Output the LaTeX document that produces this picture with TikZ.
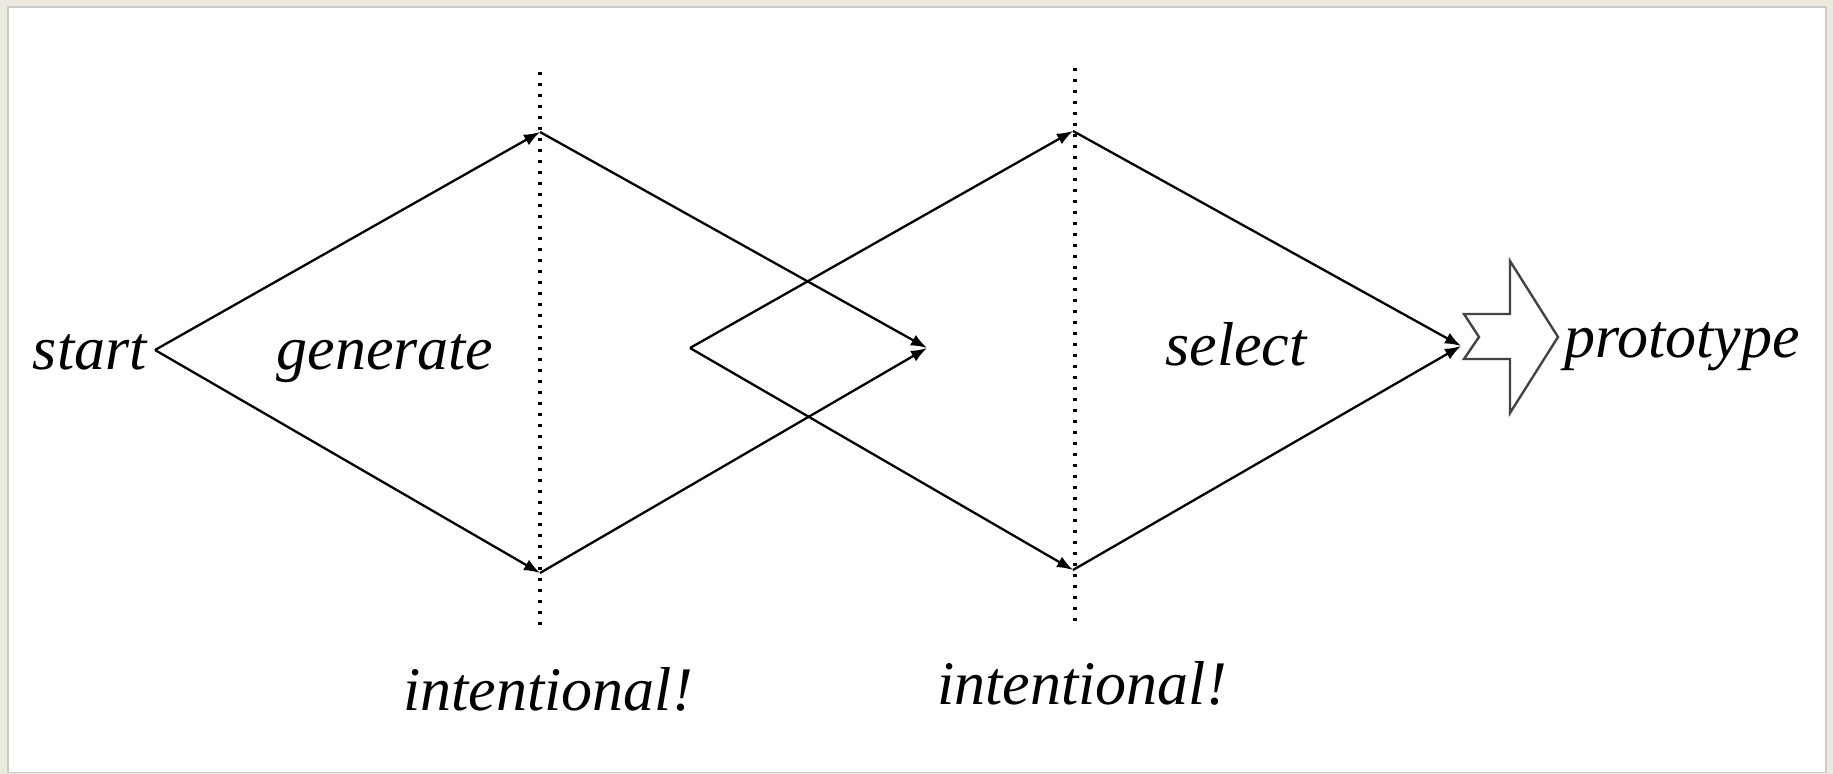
\documentclass[tikz,border=0pt]{standalone}
\usepackage{fontspec}
\setmainfont{Liberation Serif}[ItalicFont={Liberation Serif Italic}]
\usetikzlibrary{arrows.meta}
\definecolor{bgbeige}{HTML}{ECE9DF}
\definecolor{edgegray}{HTML}{A8A8A4}
\definecolor{arrgray}{HTML}{444444}
\tikzset{
  lbl/.style={font=\fontsize{31}{37}\selectfont\itshape, inner sep=0pt},
  flow/.style={line width=1.15pt, -{Latex[length=8pt,width=6pt]}},
  guide/.style={line width=1.6pt, dash pattern=on 1.6pt off 3.9pt},
  bigarrow/.style={draw=arrgray, line width=1.2pt, fill=white, line join=miter}
}
\begin{document}
\begin{tikzpicture}[x=0.5pt,y=-0.5pt]
\useasboundingbox (0,0) rectangle (1833,774);
\fill[bgbeige] (0,0) rectangle (1833,774);
\fill[edgegray!60] (7,6) rectangle (1827,773);
\fill[white] (9,8) rectangle (1825,772);
% key points
\coordinate (s) at (155,350);
\coordinate (t1) at (540,132);
\coordinate (b1) at (540,573);
\coordinate (m) at (927,348);
\coordinate (s2) at (690,348);
\coordinate (t2) at (1073,131);
\coordinate (b2) at (1073,570);
\coordinate (e) at (1461,346);
\coordinate (d1a) at (540,72);
\coordinate (d1b) at (540,625);
\coordinate (d2a) at (1075,68);
\coordinate (d2b) at (1075,622);
% guides
\draw[guide] (d1a) -- (d1b);
\draw[guide] (d2a) -- (d2b);
% flows
\draw[flow] (s) -- (t1);
\draw[flow] (s) -- (b1);
\draw[flow] (t1) -- (m);
\draw[flow] (b1) -- (m);
\draw[flow] (s2) -- (t2);
\draw[flow] (s2) -- (b2);
\draw[flow] (t2) -- (e);
\draw[flow] (b2) -- (e);
% big arrow
\draw[bigarrow] (1464,314) -- (1510,314) -- (1510,261) -- (1558,337) -- (1510,413)
  -- (1510,359) -- (1464,359) -- (1479,337) -- cycle;
% labels
\node[lbl, anchor=base east] (start) at (147,370) {start};
\node[lbl, anchor=base] (generate) at (385,370) {generate};
\node[lbl, anchor=base] (select) at (1236,366) {select};
\node[lbl, anchor=base west] (prototype) at (1564,358) {prototype};
\node[lbl, anchor=base] (int1) at (548,711) {intentional!};
\node[lbl, anchor=base] (int2) at (1082,705) {intentional!};
\end{tikzpicture}
\end{document}
